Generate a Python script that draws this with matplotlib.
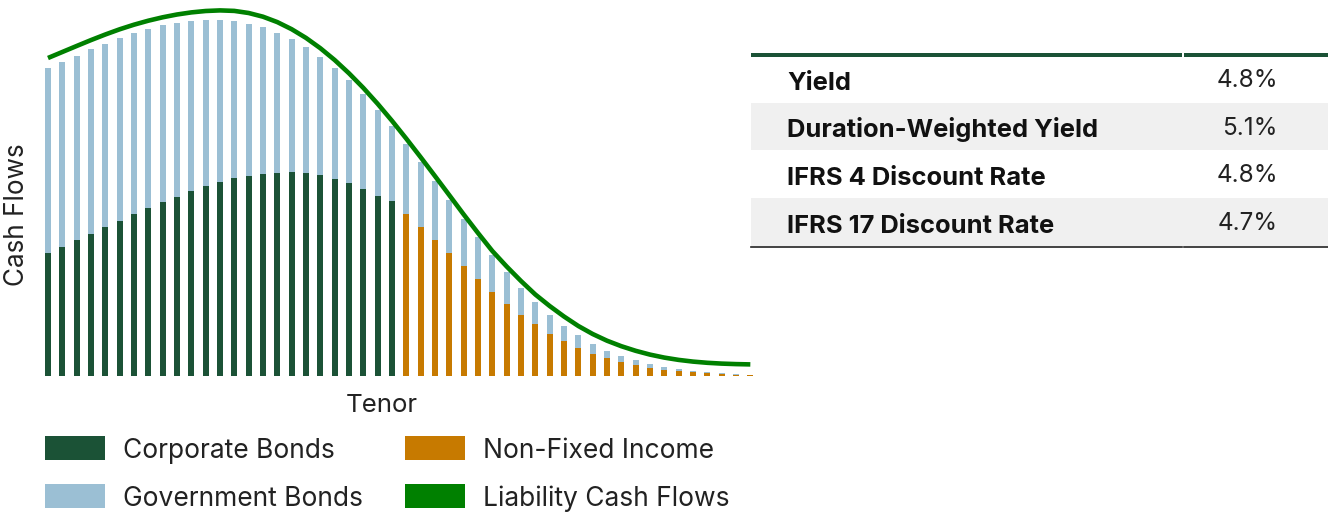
import matplotlib.pyplot as plt
import numpy as np
from matplotlib.patches import Rectangle

plt.rcParams["font.family"] = ["Inter", "DejaVu Sans"]

# ---------------- data (arbitrary units) ----------------
tenor = np.arange(50)

corporate = [123, 129, 136, 142, 149, 155, 162, 168, 174, 179,
             185, 190, 194, 198, 200, 202, 203, 204, 203, 201,
             197, 193, 187, 180, 175] + [0] * 25

non_fixed = [0] * 25 + [162, 149, 136, 123, 110, 97, 84, 72, 61, 52,
                        42, 35, 28, 22, 18, 14, 11, 8, 6, 5,
                        4, 3, 2, 1.5, 1]

government = [185, 185, 184, 185, 183, 183, 181, 179, 177, 174,
              170, 166, 162, 157, 152, 147, 140, 133, 126, 118,
              111, 103, 95, 86, 75,
              70, 65, 59, 53, 47, 42, 37, 32, 27, 22,
              19, 15, 13, 10, 7, 6, 5, 4, 3, 2,
              1, 1, 1, 0.5, 0.5]

liability = [318, 324, 330, 335.9, 341.5, 346.7, 351.3, 355.3, 358.7, 361.5,
             363.6, 365.0, 365.6, 365.1, 363.0, 359.3, 353.9, 346.8, 338.1, 327.8,
             316.0, 302.7, 288.1, 272.2, 255.2, 237.3, 218.8, 199.9, 180.8, 161.6,
             143.0, 125.0, 109.5, 95.0, 81.5, 70.0, 59.5, 50.0, 42.0, 35.3,
             29.8, 25.2, 21.4, 18.4, 16.1, 14.4, 13.2, 12.4, 11.9, 11.6]

table_labels = ["Yield", "Duration-Weighted Yield", "IFRS 4 Discount Rate", "IFRS 17 Discount Rate"]
table_values = ["4.8%", "5.1%", "4.8%", "4.7%"]

legend_labels = ["Corporate Bonds", "Government Bonds", "Non-Fixed Income", "Liability Cash Flows"]

# ---------------- colours ----------------
C_CORP = "#1b5236"
C_GOV = "#9bbfd4"
C_NFI = "#c77a00"
C_LIAB = "#008000"
C_TEXT = "#222222"

W, H = 1328, 512
fig = plt.figure(figsize=(W / 100, H / 100), dpi=100)

# ---------------- bar chart ----------------
ax = fig.add_axes([40.8 / W, 136 / H, 716.7 / W, 376 / H])
bw = 0.4
ax.bar(tenor, corporate, width=bw, color=C_CORP, linewidth=0)
ax.bar(tenor, non_fixed, width=bw, color=C_NFI, linewidth=0)
bottom_gov = np.array(corporate) + np.array(non_fixed)
ax.bar(tenor, government, width=bw, bottom=bottom_gov, color=C_GOV, linewidth=0)
ax.plot(tenor, liability, color=C_LIAB, linewidth=3.3, solid_capstyle="butt",
        solid_joinstyle="round")

ax.set_xlim(-0.5, 49.5)
ax.set_ylim(0, 376)
ax.set_xticks([])
ax.set_yticks([])
for s in ax.spines.values():
    s.set_visible(False)
ax.patch.set_alpha(0)

# ---------------- overlay in pixel coordinates ----------------
ov = fig.add_axes([0, 0, 1, 1], zorder=-1)
ov.set_xlim(0, W)
ov.set_ylim(H, 0)
ov.axis("off")

fig.text(17 / W, 1 - 215 / H, "Cash Flows", rotation=90, ha="center", va="center",
         fontsize=18.8, color=C_TEXT)
fig.text(382 / W, 1 - 412 / H, "Tenor", ha="center", va="baseline",
         fontsize=18.6, color=C_TEXT)

# table
row_edges = [57, 103, 150, 198, 246]
label_base = [90, 137, 185, 233]
value_base = [87, 135, 182, 230]
for i, (lab, val) in enumerate(zip(table_labels, table_values)):
    if i % 2 == 1:
        ov.add_patch(Rectangle((751, row_edges[i]), W - 751, row_edges[i + 1] - row_edges[i],
                               color="#f0f0f0", linewidth=0))
    ov.text(787, label_base[i], lab, fontsize=18.4, fontweight="bold", color="#111111",
            va="baseline", ha="left")
    ov.text(1278, value_base[i], val, fontsize=17.5, color=C_TEXT, va="baseline", ha="right")

ov.add_patch(Rectangle((751, 52.5), 1182 - 751, 4.5, color=C_CORP, linewidth=0))
ov.add_patch(Rectangle((1184, 52.5), W - 1184, 4.5, color=C_CORP, linewidth=0))
ov.plot([751, 1182], [246.5, 246.5], color="#222222", linewidth=1.2)
ov.plot([1184, W], [246.5, 246.5], color="#222222", linewidth=1.2)

# legend
leg_colors = [C_CORP, C_GOV, C_NFI, C_LIAB]
leg_x = [45, 45, 405, 405]
leg_y = [436, 484, 436, 484]
for lab, col, x, y in zip(legend_labels, leg_colors, leg_x, leg_y):
    ov.add_patch(Rectangle((x, y), 60, 24, color=col, linewidth=0))
    ov.text(x + 78, y + 21.5, lab, fontsize=19, color=C_TEXT, va="baseline", ha="left")

fig.savefig("out.png", dpi=100)
